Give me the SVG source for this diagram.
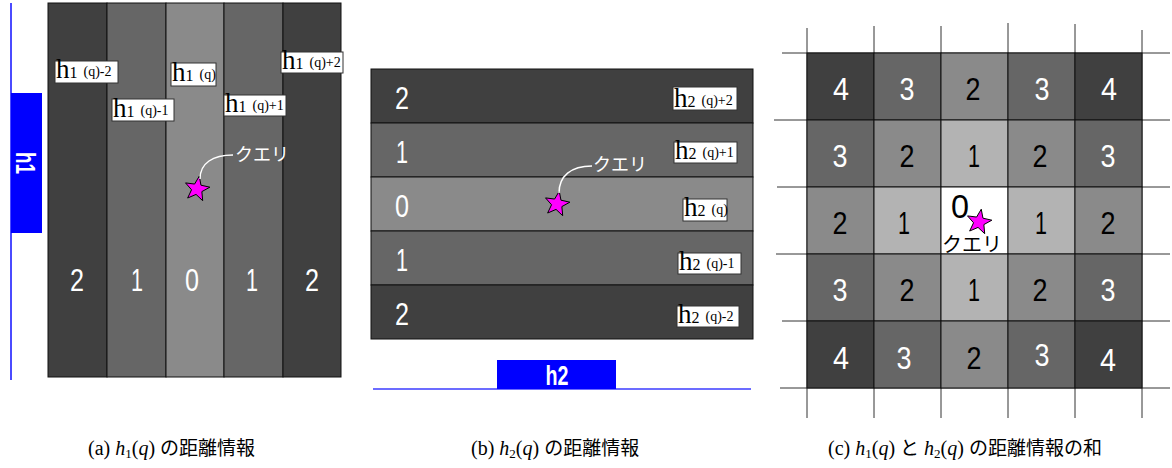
<svg xmlns="http://www.w3.org/2000/svg" width="1172" height="468" viewBox="0 0 1172 468">
<style>
.num{font-family:"Liberation Sans",Arial,sans-serif;font-size:31px;text-anchor:middle}
.w{fill:#fff}.k{fill:#000}
.d4{fill:#404040}.d3{fill:#666666}.d2{fill:#8a8a8a}.d1{fill:#b3b3b3}.d0{fill:#ffffff}
.cell{stroke:#111;stroke-width:1}
.box{fill:#fff;stroke:#333;stroke-width:1}
.lt{font-family:"Liberation Serif","Times New Roman",serif;fill:#000}
.lh{font-size:27px}.ls{font-size:16px}.lq{font-size:14px}
.jp{font-family:"Noto Sans CJK JP",sans-serif}
.qry{font-family:"Noto Sans CJK JP",sans-serif;font-size:18px;fill:#fff}
.ax{font-family:"Liberation Sans",Arial,sans-serif;font-size:27px;font-weight:bold;fill:#fff;text-anchor:middle}
.grid{stroke:#333;stroke-width:1}
.cap{font-family:"Liberation Serif","Times New Roman",serif;font-size:20px;fill:#000}
.capj{font-family:"Noto Sans CJK JP",sans-serif;font-size:19px}
.conn{fill:none;stroke:#fff;stroke-width:1.5}
</style>
<defs>
<path id="star" d="M2.26,-12.8 L3.96,-3.82 L12.87,-1.81 L4.86,2.58 L5.7,11.68 L-0.95,5.42 L-9.35,9.03 L-5.45,0.77 L-11.48,-6.1 L-2.41,-4.94 Z" fill="#ff00ff" stroke="#000" stroke-width="1"/>
</defs>

<!-- Panel (a) -->
<g id="panel-a">
<line x1="11" y1="3" x2="11" y2="380" stroke="#4b4bff" stroke-width="2"/>
<rect x="11" y="93" width="31" height="140" fill="#0000ff"/>
<text class="ax" transform="translate(25,163) rotate(90)" y="9" textLength="22" lengthAdjust="spacingAndGlyphs">h1</text>
<rect class="d4 cell" x="48" y="3" width="59" height="374"/>
<rect class="d3 cell" x="107" y="3" width="59" height="374"/>
<rect class="d2 cell" x="166" y="3" width="58" height="374"/>
<rect class="d3 cell" x="224" y="3" width="59" height="374"/>
<rect class="d4 cell" x="283" y="3" width="58" height="374"/>
<text class="num w" x="77" y="291" textLength="14" lengthAdjust="spacingAndGlyphs">2</text>
<text class="num w" x="137" y="291" textLength="12" lengthAdjust="spacingAndGlyphs">1</text>
<text class="num w" x="192" y="291" textLength="14" lengthAdjust="spacingAndGlyphs">0</text>
<text class="num w" x="252" y="291" textLength="12" lengthAdjust="spacingAndGlyphs">1</text>
<text class="num w" x="312" y="291" textLength="14" lengthAdjust="spacingAndGlyphs">2</text>
</g>
<g id="label-a-m2"><rect class="box" x="55" y="61" width="63" height="22"/><text class="lt" x="56" y="78"><tspan class="lh">h</tspan><tspan class="ls">1</tspan><tspan class="lq" dx="6" dy="-2">(q)-2</tspan></text></g>
<g id="label-a-0"><rect class="box" x="171" y="63" width="45" height="23"/><text class="lt" x="172" y="81"><tspan class="lh">h</tspan><tspan class="ls">1</tspan><tspan class="lq" dx="6" dy="-2">(q)</tspan></text></g>
<g id="label-a-p2"><rect class="box" x="281" y="52" width="62" height="21"/><text class="lt" x="282" y="69"><tspan class="lh">h</tspan><tspan class="ls">1</tspan><tspan class="lq" dx="6" dy="-2">(q)+2</tspan></text></g>
<g id="label-a-m1"><rect class="box" x="112" y="99" width="62" height="22"/><text class="lt" x="113" y="117"><tspan class="lh">h</tspan><tspan class="ls">1</tspan><tspan class="lq" dx="6" dy="-2">(q)-1</tspan></text></g>
<g id="label-a-p1"><rect class="box" x="224" y="95" width="62" height="21"/><text class="lt" x="225" y="112"><tspan class="lh">h</tspan><tspan class="ls">1</tspan><tspan class="lq" dx="6" dy="-2">(q)+1</tspan></text></g>
<g id="query-a"><use href="#star" x="197" y="189"/><text class="qry" x="235" y="161">クエリ</text></g>

<!-- Panel (b) -->
<g id="panel-b">
<rect class="d4 cell" x="371" y="69" width="382" height="54"/>
<rect class="d3 cell" x="371" y="123" width="382" height="54"/>
<rect class="d2 cell" x="371" y="177" width="382" height="54"/>
<rect class="d3 cell" x="371" y="231" width="382" height="54"/>
<rect class="d4 cell" x="371" y="285" width="382" height="54"/>
<text class="num w" x="402" y="109" textLength="14" lengthAdjust="spacingAndGlyphs">2</text>
<text class="num w" x="402" y="163" textLength="12" lengthAdjust="spacingAndGlyphs">1</text>
<text class="num w" x="402" y="217" textLength="14" lengthAdjust="spacingAndGlyphs">0</text>
<text class="num w" x="402" y="271" textLength="12" lengthAdjust="spacingAndGlyphs">1</text>
<text class="num w" x="402" y="325" textLength="14" lengthAdjust="spacingAndGlyphs">2</text>
<line x1="373" y1="389" x2="751" y2="389" stroke="#3b3bff" stroke-width="1.5"/>
<rect x="497" y="360" width="119" height="29" fill="#0000ff"/>
<text class="ax" x="557" y="385" textLength="23" lengthAdjust="spacingAndGlyphs">h2</text>
</g>
<g id="label-b-p2"><rect class="box" x="673" y="87" width="64" height="23"/><text class="lt" x="674" y="107"><tspan class="lh">h</tspan><tspan class="ls">2</tspan><tspan class="lq" dx="6" dy="-2">(q)+2</tspan></text></g>
<g id="label-b-p1"><rect class="box" x="674" y="142" width="63" height="21"/><text class="lt" x="675" y="159"><tspan class="lh">h</tspan><tspan class="ls">2</tspan><tspan class="lq" dx="6" dy="-2">(q)+1</tspan></text></g>
<g id="label-b-0"><rect class="box" x="683" y="199" width="44" height="22"/><text class="lt" x="684" y="216"><tspan class="lh">h</tspan><tspan class="ls">2</tspan><tspan class="lq" dx="6" dy="-2">(q)</tspan></text></g>
<g id="label-b-m1"><rect class="box" x="678" y="253" width="63" height="21"/><text class="lt" x="679" y="270"><tspan class="lh">h</tspan><tspan class="ls">2</tspan><tspan class="lq" dx="6" dy="-2">(q)-1</tspan></text></g>
<g id="label-b-m2"><rect class="box" x="677" y="306" width="62" height="21"/><text class="lt" x="678" y="323"><tspan class="lh">h</tspan><tspan class="ls">2</tspan><tspan class="lq" dx="6" dy="-2">(q)-2</tspan></text></g>
<g id="query-b"><use href="#star" x="557" y="204"/><text class="qry" x="593" y="171">クエリ</text></g>

<!-- Panel (c) -->
<g id="panel-c-grid">
<line class="grid" x1="807" y1="28" x2="807" y2="418"/>
<line class="grid" x1="874" y1="26" x2="874" y2="418"/>
<line class="grid" x1="941" y1="26" x2="941" y2="418"/>
<line class="grid" x1="1008" y1="23" x2="1008" y2="418"/>
<line class="grid" x1="1075" y1="24" x2="1075" y2="418"/>
<line class="grid" x1="1142" y1="30" x2="1142" y2="418"/>
<line class="grid" x1="782" y1="53" x2="1170" y2="53"/>
<line class="grid" x1="774" y1="120" x2="1170" y2="120"/>
<line class="grid" x1="777" y1="187" x2="1170" y2="187"/>
<line class="grid" x1="776" y1="254" x2="1170" y2="254"/>
<line class="grid" x1="782" y1="321" x2="1170" y2="321"/>
<line class="grid" x1="780" y1="388" x2="1170" y2="388"/>
</g>
<g id="panel-c">
<rect class="d4 cell" x="807" y="53" width="67" height="67"/><rect class="d3 cell" x="874" y="53" width="67" height="67"/><rect class="d2 cell" x="941" y="53" width="67" height="67"/><rect class="d3 cell" x="1008" y="53" width="67" height="67"/><rect class="d4 cell" x="1075" y="53" width="67" height="67"/>
<rect class="d3 cell" x="807" y="120" width="67" height="67"/><rect class="d2 cell" x="874" y="120" width="67" height="67"/><rect class="d1 cell" x="941" y="120" width="67" height="67"/><rect class="d2 cell" x="1008" y="120" width="67" height="67"/><rect class="d3 cell" x="1075" y="120" width="67" height="67"/>
<rect class="d2 cell" x="807" y="187" width="67" height="67"/><rect class="d1 cell" x="874" y="187" width="67" height="67"/><rect class="d0 cell" x="941" y="187" width="67" height="67"/><rect class="d1 cell" x="1008" y="187" width="67" height="67"/><rect class="d2 cell" x="1075" y="187" width="67" height="67"/>
<rect class="d3 cell" x="807" y="254" width="67" height="67"/><rect class="d2 cell" x="874" y="254" width="67" height="67"/><rect class="d1 cell" x="941" y="254" width="67" height="67"/><rect class="d2 cell" x="1008" y="254" width="67" height="67"/><rect class="d3 cell" x="1075" y="254" width="67" height="67"/>
<rect class="d4 cell" x="807" y="321" width="67" height="67"/><rect class="d3 cell" x="874" y="321" width="67" height="67"/><rect class="d2 cell" x="941" y="321" width="67" height="67"/><rect class="d3 cell" x="1008" y="321" width="67" height="67"/><rect class="d4 cell" x="1075" y="321" width="67" height="67"/>
<text class="num w" x="841" y="100" textLength="16" lengthAdjust="spacingAndGlyphs">4</text>
<text class="num w" x="907" y="100" textLength="15" lengthAdjust="spacingAndGlyphs">3</text>
<text class="num k" x="973" y="100" textLength="15" lengthAdjust="spacingAndGlyphs">2</text>
<text class="num w" x="1042" y="100" textLength="15" lengthAdjust="spacingAndGlyphs">3</text>
<text class="num w" x="1109" y="100" textLength="16" lengthAdjust="spacingAndGlyphs">4</text>
<text class="num w" x="840" y="167" textLength="15" lengthAdjust="spacingAndGlyphs">3</text>
<text class="num k" x="907" y="167" textLength="15" lengthAdjust="spacingAndGlyphs">2</text>
<text class="num k" x="974" y="167" textLength="12" lengthAdjust="spacingAndGlyphs">1</text>
<text class="num k" x="1040" y="167" textLength="15" lengthAdjust="spacingAndGlyphs">2</text>
<text class="num w" x="1108" y="167" textLength="15" lengthAdjust="spacingAndGlyphs">3</text>
<text class="num k" x="840" y="234" textLength="15" lengthAdjust="spacingAndGlyphs">2</text>
<text class="num k" x="904" y="234" textLength="12" lengthAdjust="spacingAndGlyphs">1</text>
<text class="num k" x="1041" y="234" textLength="12" lengthAdjust="spacingAndGlyphs">1</text>
<text class="num k" x="1108" y="234" textLength="15" lengthAdjust="spacingAndGlyphs">2</text>
<text class="num w" x="840" y="301" textLength="15" lengthAdjust="spacingAndGlyphs">3</text>
<text class="num k" x="907" y="301" textLength="15" lengthAdjust="spacingAndGlyphs">2</text>
<text class="num k" x="974" y="301" textLength="12" lengthAdjust="spacingAndGlyphs">1</text>
<text class="num k" x="1040" y="301" textLength="15" lengthAdjust="spacingAndGlyphs">2</text>
<text class="num w" x="1108" y="301" textLength="15" lengthAdjust="spacingAndGlyphs">3</text>
<text class="num w" x="841" y="369" textLength="16" lengthAdjust="spacingAndGlyphs">4</text>
<text class="num w" x="904" y="369" textLength="15" lengthAdjust="spacingAndGlyphs">3</text>
<text class="num k" x="974" y="369" textLength="15" lengthAdjust="spacingAndGlyphs">2</text>
<text class="num w" x="1042" y="366" textLength="15" lengthAdjust="spacingAndGlyphs">3</text>
<text class="num w" x="1108" y="371" textLength="16" lengthAdjust="spacingAndGlyphs">4</text>
</g>
<g id="query-c">
<text class="num k" x="960" y="218" style="font-size:33px" textLength="18" lengthAdjust="spacingAndGlyphs">0</text>
<use href="#star" x="979" y="222"/>
<text class="jp" x="942" y="252" style="font-size:20px" fill="#000" textLength="60" lengthAdjust="spacingAndGlyphs">クエリ</text>
</g>

<g id="connectors">
<path class="conn" d="M200,179 C200,163 213,155 233,155"/>
<path class="conn" d="M559,193 C559,176 571,166 592,166"/>
</g>

<!-- Captions -->
<g id="captions">
<text class="cap" x="88" y="455">(a) <tspan font-style="italic">h</tspan><tspan font-size="13" dy="3">1</tspan><tspan dy="-3">(</tspan><tspan font-style="italic">q</tspan>) <tspan class="capj">の距離情報</tspan></text>
<text class="cap" x="471" y="455">(b) <tspan font-style="italic">h</tspan><tspan font-size="13" dy="3">2</tspan><tspan dy="-3">(</tspan><tspan font-style="italic">q</tspan>) <tspan class="capj">の距離情報</tspan></text>
<text class="cap" x="828" y="455">(c) <tspan font-style="italic">h</tspan><tspan font-size="13" dy="3">1</tspan><tspan dy="-3">(</tspan><tspan font-style="italic">q</tspan>) <tspan class="capj">と</tspan> <tspan font-style="italic">h</tspan><tspan font-size="13" dy="3">2</tspan><tspan dy="-3">(</tspan><tspan font-style="italic">q</tspan>) <tspan class="capj">の距離情報の和</tspan></text>
</g>
</svg>
